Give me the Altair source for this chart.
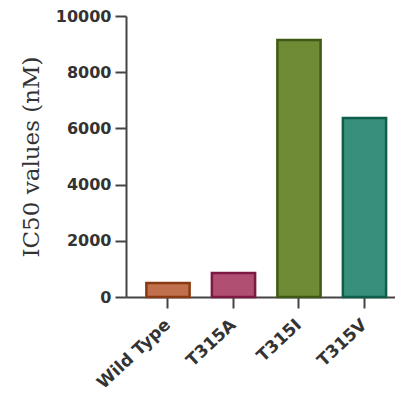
import altair as alt
import pandas as pd

categories = ["Wild Type", "T315A", "T315I", "T315V"]
values = [500, 850, 9150, 6370]
fills = ["#c0704c", "#b04f72", "#6f8b36", "#38907a"]
strokes = ["#8a3a12", "#7c1a44", "#3f5a14", "#0f5e4c"]

df = pd.DataFrame({"cat": categories, "val": values})

chart = alt.Chart(df).mark_bar(strokeWidth=2.5).encode(
    x=alt.X("cat:N", sort=categories, title=None,
            scale=alt.Scale(paddingInner=0.34, paddingOuter=0.2235, align=0.696),
            axis=alt.Axis(labelAngle=-43, labelAlign="right", labelBaseline="middle",
                          labelFont="DejaVu Sans", labelFontWeight="bold", labelFontSize=17,
                          labelColor="#333333", labelPadding=14, tickSize=11, tickWidth=2,
                          tickColor="#444444", domainColor="#444444", domainWidth=2)),
    y=alt.Y("val:Q", title="IC50 values (nM)",
            scale=alt.Scale(domain=[0, 10000], nice=False),
            axis=alt.Axis(values=[0, 2000, 4000, 6000, 8000, 10000], grid=False, format="d",
                          labelFont="DejaVu Sans", labelFontWeight="bold", labelFontSize=16,
                          labelColor="#333333", labelPadding=4, tickSize=11, tickWidth=2,
                          tickColor="#444444", domainColor="#444444", domainWidth=2,
                          titleFont="DejaVu Serif", titleFontWeight="normal", titleFontSize=23,
                          titleColor="#333333", titlePadding=12)),
    fill=alt.Fill("cat:N", sort=categories, scale=alt.Scale(domain=categories, range=fills), legend=None),
    stroke=alt.Stroke("cat:N", sort=categories, scale=alt.Scale(domain=categories, range=strokes), legend=None),
).properties(
    width=269, height=281,
    autosize=alt.AutoSizeParams(type="none"),
    padding={"left": 118, "top": 8, "right": 0, "bottom": 95},
).configure_view(stroke=None)

chart.save("out.html", embed_options={"renderer": "svg", "actions": False})
